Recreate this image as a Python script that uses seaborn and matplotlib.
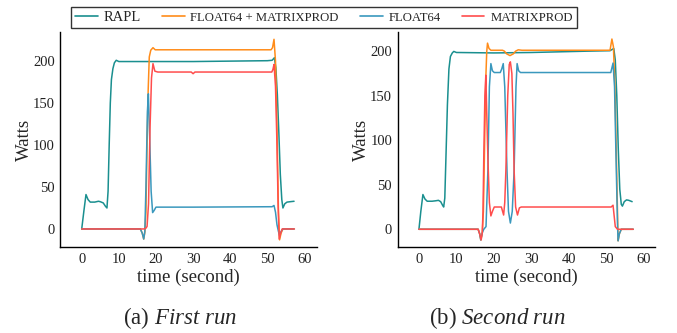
import matplotlib
matplotlib.use("Agg")
import matplotlib.pyplot as plt
import seaborn as sns
import pandas as pd
from matplotlib.lines import Line2D

# ---------------- data ----------------
# Run 1
r1_rapl_t = [0, 0.6, 1.15, 1.7, 2.3, 3.5, 4.5, 5.0, 5.8, 6.4, 6.8, 7.1, 7.4, 7.7, 8.0, 8.4, 8.8, 9.3, 10,
             20, 30, 40, 50, 51.3, 51.9, 52.3, 52.7, 53.1, 53.5, 53.9, 54.2, 54.7, 55.3, 56.2, 57.2]
r1_rapl_v = [0, 22, 41, 35, 32, 32, 33, 32.5, 31, 27, 25, 45, 100, 150, 178, 191, 198, 201, 199.5,
             199.5, 199.5, 200, 200.5, 201, 204, 192, 160, 115, 65, 35, 25, 30, 32, 32.5, 33]

r1_both_t = [0, 15.8, 16.3, 16.7, 17.0, 17.3, 17.6, 17.9, 18.2, 18.6, 19.2, 19.8, 30, 40, 51.0, 51.4, 51.8,
             52.2, 52.6, 53.0, 53.3, 53.7, 54.2, 57.2]
r1_both_v = [0, 0, -5, -12, -4, 20, 100, 165, 205, 213, 216, 213.5, 213.5, 213.5, 213.5, 216, 226,
             200, 120, 20, -13, -5, 0, 0]

r1_float_t = [0, 15.8, 16.3, 16.7, 17.0, 17.3, 17.7, 17.95, 18.3, 18.7, 19.1, 19.5, 20, 30, 51.3, 51.8,
              52.2, 52.6, 53.0, 53.3, 53.7, 54.2, 57.2]
r1_float_v = [0, 0, -5, -12, -3, 50, 140, 161, 110, 45, 19.5, 22, 26, 26, 26.5, 28,
              20, 5, -3, -8, -3, 0, 0]

r1_mat_t = [0, 16.8, 17.3, 17.6, 18.0, 18.4, 18.8, 19.2, 19.7, 20.5, 29.5, 30.0, 30.5, 51.2, 51.5, 51.8,
            52.2, 52.6, 52.9, 53.2, 53.6, 54.0, 57.3]
r1_mat_v = [0, 0, 1, 3, 30, 120, 180, 197, 188, 187, 187, 185, 187, 187, 190, 196,
            170, 100, 30, -12, -5, 0, 0]

# Run 2
r2_rapl_t = [0, 0.5, 1.06, 1.6, 2.2, 3.5, 4.5, 5.2, 5.8, 6.3, 6.6, 6.9, 7.2, 7.6, 8.0, 8.4, 8.9, 9.3, 10,
             20, 30, 40, 45, 51, 51.6, 52.0, 52.4, 52.8, 53.2, 53.6, 54.0, 54.3, 54.8, 55.4, 56, 56.9]
r2_rapl_v = [0, 20, 39, 34, 31.5, 31.5, 32, 32.5, 31, 27, 25, 35, 80, 140, 180, 194, 198, 199.7, 198.5,
             198, 198.5, 199.5, 200, 200.5, 202, 203, 190, 150, 90, 45, 28, 26, 31, 33, 32.5, 31]

r2_both_t = [0, 15.8, 16.2, 16.5, 16.9, 17.2, 17.5, 17.85, 18.1, 18.3, 18.7, 19.2, 22.3, 22.8, 23.4, 24.3,
             25.2, 25.8, 26.5, 27.5, 51.0, 51.5, 51.9, 52.3, 52.7, 53.15, 53.5, 54.0, 57.2]
r2_both_v = [0, 0, -5, -12, -4, 20, 90, 170, 200, 209, 203, 201, 201, 200, 197, 195,
             197, 200, 201.5, 201, 201, 213.6, 205, 160, 80, -13, -5, 0, 0]

r2_float_t = [0, 15.8, 16.2, 16.5, 16.9, 17.3, 17.9, 18.4, 18.8, 19.2, 19.6, 20.1, 21.7, 22.1, 22.5, 22.9,
              23.5, 23.9, 24.4, 24.9, 25.4, 25.9, 26.2, 26.6, 27.1, 51.2, 51.8, 52.2, 52.6, 53.0, 53.15,
              53.5, 54.0, 57.2]
r2_float_v = [0, 0, -5, -12, -4, 0, 3, 66, 160, 186, 178, 176, 176, 180, 186, 160,
              66, 20, 7, 20, 66, 160, 186, 178, 176, 176, 186.6, 160, 80, 5, -13,
              -5, 0, 0]

r2_mat_t = [0, 15.8, 16.2, 16.6, 16.9, 17.1, 17.3, 17.6, 17.85, 18.1, 18.4, 18.8, 19.2, 19.6, 20.1,
            22.0, 22.6, 22.9, 23.2, 23.7, 24.1, 24.4, 24.8, 25.1, 25.4, 25.8, 26.3, 26.8, 27.3,
            51.3, 51.8, 52.4, 53.0, 57.2]
r2_mat_v = [0, 0, -5, -12, -4, 20, 80, 150, 173, 130, 80, 30, 15, 20, 25,
            25, 16, 30, 66, 150, 185, 188, 175, 130, 66, 25, 16, 24, 25,
            25, 27, 3, 0, 0]

series_names = ["RAPL", "FLOAT64 + MATRIXPROD", "FLOAT64", "MATRIXPROD"]
colors = ["#1a8f8f", "#ff8c1a", "#3a98bd", "#ff4d4d"]
x_ticks = [0, 10, 20, 30, 40, 50, 60]
y_ticks = [0, 50, 100, 150, 200]
captions = [("(a) ", "First run"), ("(b) ", "Second run")]

runs = [
    [(r1_rapl_t, r1_rapl_v), (r1_both_t, r1_both_v), (r1_float_t, r1_float_v), (r1_mat_t, r1_mat_v)],
    [(r2_rapl_t, r2_rapl_v), (r2_both_t, r2_both_v), (r2_float_t, r2_float_v), (r2_mat_t, r2_mat_v)],
]

# ---------------- style ----------------
sns.set_theme(style="white")
plt.rcParams["font.family"] = ["Liberation Serif", "DejaVu Serif"]
plt.rcParams["mathtext.fontset"] = "custom"
plt.rcParams["mathtext.rm"] = "Liberation Serif"
plt.rcParams["mathtext.it"] = "Liberation Serif:italic"

W, H = 677, 333
fig = plt.figure(figsize=(W / 100, H / 100), dpi=100)

ax_boxes = [(60.3, 32, 316.7, 247), (397.7, 32, 655, 247)]
xlims = [(-5.77, 63.3), (-5.67, 63.0)]
ylims = [(-21.5, 234.7), (-19.9, 221.5)]
ylabel_x = [24.5, 361]
cap_x = [180, 497]

for i, run in enumerate(runs):
    x0, y0, x1, y1 = ax_boxes[i]
    ax = fig.add_axes([x0 / W, (H - y1) / H, (x1 - x0) / W, (y1 - y0) / H])
    for (t, v), c in zip(run, colors):
        df = pd.DataFrame({"t": t, "v": v})
        sns.lineplot(data=df, x="t", y="v", ax=ax, color=c, linewidth=1.1,
                     legend=False, errorbar=None, sort=False)
    ax.set_xlim(*xlims[i])
    ax.set_ylim(*ylims[i])
    ax.set_xticks(x_ticks)
    ax.set_yticks(y_ticks)
    ax.tick_params(direction="in", length=4, width=0.8, color="#999999",
                   labelsize=10.5, labelcolor="#222222", pad=4)
    for s in ["top", "right"]:
        ax.spines[s].set_visible(False)
    for s in ["left", "bottom"]:
        ax.spines[s].set_color("black")
        ax.spines[s].set_linewidth(1.0)
    ax.set_xlabel("")
    ax.set_ylabel("")
    fig.text((x0 + x1) / 2 / W, 1 - 277 / H, "time (second)",
             ha="center", va="center", fontsize=13.5)
    fig.text(ylabel_x[i] / W, 1 - 140 / H, "Watts", rotation=90,
             ha="center", va="center", fontsize=13.5)
    pre, it = captions[i]
    fig.text(cap_x[i] / W, 1 - 318 / H, pre + r"$\mathit{" + it.replace(" ", r"\ ") + "}$",
             ha="center", va="center", fontsize=16.5)

handles = [Line2D([], [], color=c, linewidth=1.2) for c in colors]
leg = fig.legend(handles, series_names, ncol=4, loc="center",
                 bbox_to_anchor=(324 / W, 1 - 17.5 / H), frameon=True, fancybox=False,
                 edgecolor="black", fontsize=10.5, handlelength=1.55, columnspacing=1.45,
                 handletextpad=0.4, borderpad=0.3)
leg.get_frame().set_linewidth(1.0)
for k, txt in enumerate(leg.get_texts()):
    if k > 0:
        txt.set_fontsize(9.2)

fig.savefig("out.png", dpi=100)
